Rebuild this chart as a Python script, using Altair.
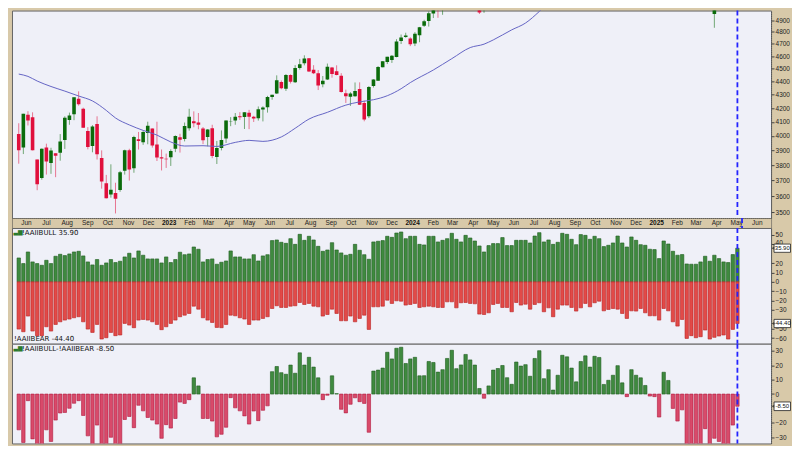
import altair as alt
import pandas as pd

# ---------------- data ----------------
FIRST_WEEK = "2022-05-16"
N_WEEKS = 157

spx_open = [4013, 3919, 4151, 4134, 3838, 3715, 3920, 3815, 3880, 3883, 3971, 4113, 4155, 4270, 4195, 4035, 3930, 4084, 3849, 3682,
            3610, 3619, 3638, 3763, 3901, 3780, 3977, 3956, 4020, 4053, 3940, 3853, 3843, 3853, 3911, 3991, 3978, 4055, 4105, 4096,
            4053, 3993, 4055, 3855, 3917, 3982, 4102, 4110, 4140, 4135, 4166, 4136, 4126, 4190, 4206, 4283, 4308, 4396, 4345, 4450,
            4394, 4505, 4543, 4584, 4492, 4464, 4380, 4415, 4510, 4480, 4445, 4310, 4284, 4289, 4342, 4238, 4140, 4365, 4406, 4512,
            4554, 4569, 4593, 4725, 4758, 4745, 4703, 4772, 4853, 4892, 4957, 5026, 4989, 5093, 5130, 5111, 5154, 5219, 5257, 5218,
            5191, 4988, 5114, 5142, 5221, 5305, 5315, 5297, 5341, 5432, 5459, 5471, 5572, 5625, 5545, 5477, 5151, 5352, 5557, 5637,
            5623, 5442, 5615, 5711, 5727, 5737, 5832, 5857, 5833, 5724, 6008, 5878, 5992, 6040, 6084, 6063, 5940, 5920, 5983, 5788,
            6014, 5970, 5970, 6046, 6121, 6026, 5968, 5705, 5635, 5718, 5527, 4953, 5441, 5232, 5529, 5655, 5805]
spx_high = [4090, 4158, 4177, 4169, 3838, 3913, 3946, 3918, 3880, 4013, 4140, 4167, 4280, 4325, 4203, 4062, 4076, 4140, 3900, 3736,
            3806, 3685, 3762, 3905, 3911, 4001, 4028, 4034, 4101, 4053, 4101, 3906, 3878, 3907, 4004, 4015, 4095, 4195, 4176, 4164,
            4063, 4048, 4079, 3965, 4039, 4110, 4134, 4164, 4170, 4170, 4187, 4143, 4212, 4213, 4291, 4299, 4448, 4408, 4458, 4456,
            4528, 4578, 4607, 4584, 4528, 4490, 4443, 4541, 4514, 4527, 4465, 4338, 4319, 4393, 4394, 4255, 4365, 4418, 4521, 4560,
            4595, 4609, 4739, 4778, 4793, 4755, 4798, 4842, 4903, 4975, 5030, 5048, 5111, 5140, 5189, 5180, 5262, 5265, 5264, 5263,
            5211, 5114, 5128, 5239, 5325, 5342, 5315, 5375, 5447, 5506, 5524, 5570, 5655, 5670, 5585, 5566, 5376, 5563, 5643, 5651,
            5623, 5636, 5733, 5767, 5765, 5822, 5879, 5879, 5870, 6013, 6018, 5972, 6044, 6099, 6085, 6085, 6050, 5955, 6021, 6012,
            6128, 6100, 6101, 6127, 6147, 6043, 5986, 5715, 5715, 5787, 5695, 5481, 5459, 5528, 5700, 5720, 5959]
spx_low = [3810, 3875, 4074, 3900, 3637, 3705, 3738, 3743, 3721, 3830, 3910, 4079, 4112, 4218, 4057, 3907, 3887, 3838, 3647, 3585,
           3590, 3492, 3627, 3738, 3699, 3750, 3906, 3938, 3942, 3919, 3828, 3765, 3782, 3795, 3888, 3885, 3962, 4037, 4061, 4047,
           3943, 3928, 3847, 3808, 3900, 3951, 4069, 4079, 4114, 4049, 4048, 4099, 4109, 4103, 4167, 4262, 4305, 4341, 4328, 4385,
           4389, 4493, 4527, 4474, 4458, 4335, 4356, 4412, 4430, 4448, 4316, 4238, 4216, 4284, 4223, 4104, 4127, 4354, 4406, 4511,
           4537, 4546, 4591, 4699, 4751, 4682, 4682, 4714, 4842, 4845, 4918, 4920, 4946, 5057, 5057, 5092, 5146, 5204, 5146, 5107,
           4953, 4963, 5012, 5114, 5211, 5257, 5191, 5234, 5325, 5420, 5433, 5448, 5497, 5497, 5391, 5306, 5119, 5324, 5540, 5560,
           5402, 5406, 5604, 5698, 5674, 5695, 5808, 5787, 5702, 5696, 5853, 5855, 5963, 6032, 6024, 5832, 5933, 5829, 5809, 5774,
           6006, 5924, 5923, 6003, 6008, 5837, 5666, 5505, 5597, 5581, 5069, 4835, 5220, 5101, 5434, 5598, 5786]
spx_close = [3901, 4158, 4109, 3901, 3675, 3912, 3825, 3899, 3863, 3961, 4130, 4145, 4280, 4228, 4058, 3924, 4067, 3873, 3693, 3586,
             3640, 3583, 3753, 3901, 3771, 3993, 3965, 4027, 4072, 3934, 3852, 3845, 3840, 3895, 3999, 3973, 4071, 4136, 4090, 4079,
             3970, 4046, 3862, 3917, 3971, 4109, 4105, 4137, 4133, 4169, 4136, 4124, 4192, 4205, 4282, 4299, 4410, 4348, 4450, 4399,
             4505, 4536, 4582, 4478, 4464, 4370, 4406, 4516, 4458, 4450, 4320, 4288, 4309, 4327, 4224, 4117, 4358, 4415, 4514, 4559,
             4595, 4604, 4719, 4754, 4770, 4697, 4784, 4840, 4891, 4959, 5027, 5006, 5089, 5137, 5124, 5117, 5234, 5254, 5204, 5123,
             4967, 5100, 5128, 5223, 5303, 5305, 5278, 5347, 5432, 5465, 5460, 5567, 5615, 5505, 5459, 5347, 5344, 5555, 5634, 5648,
             5408, 5626, 5702, 5738, 5751, 5815, 5864, 5808, 5729, 5996, 5871, 5969, 6032, 6090, 6051, 5931, 5971, 5942, 5827, 5997,
             6101, 6041, 6026, 6115, 6013, 5955, 5770, 5639, 5668, 5581, 5074, 5363, 5283, 5525, 5687, 5660, 5958]

aaii_bull = [25.5, 19.5, 31.9, 21.3, 19.5, 17.7, 23.0, 19.5, 27.3, 29.4, 28.0, 29.8, 31.9, 32.6, 27.7, 21.3, 18.1, 23.8, 17.7, 20.2,
             23.8, 20.6, 22.0, 26.6, 30.5, 25.5, 33.0, 28.4, 24.5, 24.5, 24.5, 20.2, 26.6, 20.6, 23.8, 31.6, 29.0, 29.8, 37.2, 34.8,
             21.3, 23.8, 24.5, 18.8, 20.9, 22.3, 33.0, 26.6, 26.6, 24.5, 24.5, 29.0, 22.3, 27.7, 29.0, 44.0, 44.7, 42.2, 41.1, 46.1,
             40.0, 50.7, 44.3, 48.6, 44.7, 37.9, 32.6, 34.0, 41.8, 34.0, 30.9, 28.4, 29.4, 40.0, 33.7, 29.0, 24.1, 42.6, 43.3, 44.0,
             48.6, 47.5, 52.1, 53.2, 46.1, 48.6, 48.6, 40.0, 39.4, 48.6, 48.6, 42.6, 44.3, 46.1, 51.8, 45.4, 42.6, 49.6, 46.8, 43.6,
             38.3, 31.9, 38.7, 40.8, 40.8, 47.2, 38.7, 38.7, 44.3, 44.3, 44.3, 41.5, 48.9, 52.5, 42.6, 44.7, 40.0, 42.2, 51.8, 50.7,
             45.4, 39.7, 50.4, 49.6, 45.4, 48.6, 46.1, 37.6, 39.0, 41.5, 48.9, 41.5, 37.2, 47.9, 44.3, 39.7, 39.0, 34.8, 34.4, 24.8,
             43.6, 40.4, 32.6, 28.4, 29.1, 19.1, 18.8, 18.8, 21.3, 27.3, 22.0, 28.4, 24.8, 21.3, 20.6, 29.1, 35.9]
aaii_bear = [50.4, 53.2, 36.5, 52.5, 57.4, 57.4, 47.9, 52.5, 45.4, 42.6, 40.8, 39.7, 38.3, 37.2, 42.6, 50.4, 53.9, 45.4, 61.0, 59.6,
             53.9, 57.4, 56.7, 44.3, 46.1, 48.9, 40.8, 40.1, 40.8, 42.6, 45.4, 51.0, 47.9, 44.3, 40.8, 37.2, 35.5, 33.7, 25.9, 29.1,
             38.3, 40.8, 43.3, 48.6, 48.9, 45.4, 35.5, 36.2, 38.3, 39.7, 45.4, 40.8, 40.8, 39.0, 37.2, 28.4, 25.5, 27.3, 27.3, 25.9,
             25.5, 22.0, 24.1, 23.0, 25.9, 26.6, 36.5, 34.8, 29.1, 33.7, 41.5, 41.5, 36.5, 42.6, 39.0, 35.5, 50.7, 26.6, 26.6, 25.9,
             19.5, 23.0, 20.2, 20.6, 24.8, 24.1, 23.0, 27.3, 26.6, 25.9, 26.6, 27.3, 27.3, 21.3, 21.3, 27.7, 22.3, 22.0, 23.0, 23.4,
             34.4, 34.8, 33.0, 24.1, 23.0, 27.3, 27.3, 31.9, 22.0, 24.8, 23.8, 29.1, 24.1, 22.3, 31.9, 27.7, 37.2, 29.1, 24.8, 24.8,
             27.3, 31.2, 27.7, 23.0, 26.6, 22.3, 20.6, 30.9, 29.4, 28.4, 29.1, 33.7, 39.0, 30.9, 31.2, 28.4, 33.0, 36.2, 36.2, 40.8,
             28.4, 30.9, 42.6, 47.2, 40.1, 60.3, 57.4, 59.6, 58.5, 51.4, 61.0, 59.2, 57.8, 56.7, 61.0, 50.7, 44.4]

# 40-week moving average (week number, price)
ma_week = [0, 2, 4, 7, 10, 13, 16, 19, 21, 24, 27, 30, 33, 36, 40, 43, 47, 50, 53, 57, 60, 63, 67, 71, 74, 77, 80, 83,
           85, 90, 94, 98, 101, 103, 107, 110, 113, 115, 118, 121]
ma_value = [4458, 4440, 4404, 4362, 4327, 4290, 4253, 4183, 4128, 4078, 4039, 4006, 3958, 3930, 3932, 3927, 3955, 3969, 3962,
            3993, 4054, 4120, 4169, 4222, 4246, 4262, 4292, 4345, 4392, 4490, 4580, 4670, 4698, 4733, 4817, 4875, 4975, 5053,
            5120, 5180]

month_labels = ["Jun", "Jul", "Aug", "Sep", "Oct", "Nov", "Dec", "2023", "Feb", "Mar", "Apr", "May", "Jun", "Jul", "Aug",
                "Sep", "Oct", "Nov", "Dec", "2024", "Feb", "Mar", "Apr", "May", "Jun", "Jul", "Aug", "Sep", "Oct", "Nov",
                "Dec", "2025", "Feb", "Mar", "Apr", "May", "Jun"]
price_ticks = [3500, 3600, 3700, 3800, 3900, 4000, 4100, 4200, 4300, 4400, 4500, 4600, 4700, 4800, 4900]
sent_ticks = [50, 40, 20, 10, 0, -10, -20, -30, -50, -60]      # 30 and -40 sit under the value boxes
spread_ticks = [30, 20, 10, 0, -20, -30]                        # -10 sits under the value box

# ---------------- layout / style ----------------
PLOT_W = 761
AX_W = 20
TOP_H, BAND_H, MID_H, BOT_H = 208, 10, 116, 100
PX_PER_WEEK = 4.68
FIRST_BAR_PX = 1.8

TAN = "#d8c9a9"
PLOT_BG = "#eff0f8"
C_UP = "#0b6b0b"
C_DN = "#e0103c"
MA_COL = "#6464c4"
BULL_FILL, BULL_STROKE = "#3f8a3f", "#1f5c1f"
BEAR_FILL, BEAR_STROKE = "#e24a48", "#b82020"
NEG_FILL, NEG_STROKE = "#d94a6a", "#b0183c"
BLUE = "#2424ff"
FONT = "DejaVu Sans"
AXFONT = "Liberation Sans"

dates = pd.date_range(FIRST_WEEK, periods=N_WEEKS, freq="7D")
t0 = dates[0] - pd.Timedelta(days=FIRST_BAR_PX / PX_PER_WEEK * 7)
t1 = t0 + pd.Timedelta(days=PLOT_W / PX_PER_WEEK * 7)


def ms(t):
    return int(pd.Timestamp(t).value // 10**6)


xscale = alt.Scale(type="utc", domain=[ms(t0), ms(t1)])
X = alt.X("date:T", scale=xscale, axis=None)

df = pd.DataFrame({
    "date": dates.strftime("%Y-%m-%d"),
    "open": spx_open, "high": spx_high, "low": spx_low, "close": spx_close,
    "bull": aaii_bull, "bear": aaii_bear,
})
ma_df = pd.DataFrame({"date": dates[ma_week].strftime("%Y-%m-%d"), "ma": ma_value})
last_df = pd.DataFrame({"date": [dates[-1].strftime("%Y-%m-%d")]})
month_df = pd.DataFrame({
    "date": pd.date_range("2022-06-01", periods=len(month_labels), freq="MS").strftime("%Y-%m-%d"),
    "label": month_labels,
})
month_df["year"] = month_df["label"].str.match(r"^\d{4}$")


def right_axis(values, fmt, baseline="middle"):
    return alt.Axis(orient="right", values=values, format=fmt, title=None, grid=False,
                    tickSize=3, tickColor="#444", labelPadding=1, labelFont=AXFONT,
                    labelFontSize=6.5, labelColor="#222", domainColor="#555", labelBaseline=baseline,
                    domainDash=[1, 1], minExtent=AX_W, maxExtent=AX_W, labelFlush=False)


blue_rule = alt.Chart(last_df).mark_rule(color=BLUE, strokeDash=[5, 3], strokeWidth=1.8).encode(x=X)

# ---------------- top: candlesticks ----------------
top_scale = alt.Scale(type="log", domain=[3464, 4983], nice=False, zero=False)
top_axis = right_axis(price_ticks, "d")
candle_col = alt.condition("datum.close >= datum.open", alt.value(C_UP), alt.value(C_DN))
base = alt.Chart(df).encode(x=X)
wicks = base.mark_rule(strokeWidth=1, opacity=0.55, clip=True).encode(
    y=alt.Y("low:Q", scale=top_scale, axis=top_axis), y2="high:Q", color=candle_col)
bodies = base.mark_bar(size=3.6, clip=True).encode(
    y=alt.Y("open:Q", scale=top_scale, axis=top_axis), y2="close:Q", color=candle_col)
ma_line = alt.Chart(ma_df).mark_line(color=MA_COL, strokeWidth=1, clip=True, interpolate="monotone").encode(
    x=X, y=alt.Y("ma:Q", scale=top_scale, axis=top_axis))
top = alt.layer(wicks, bodies, ma_line, blue_rule).properties(width=PLOT_W, height=TOP_H)

# ---------------- band: month labels ----------------
band_base = alt.Chart(month_df).encode(x=X, y=alt.value(BAND_H / 2), text="label:N")
band_month = band_base.transform_filter("!datum.year").mark_text(
    font=AXFONT, fontSize=6.5, color="#222", baseline="middle", align="center", dx=2)
band_year = band_base.transform_filter("datum.year").mark_text(
    font=AXFONT, fontSize=6.5, fontWeight="bold", color="#111", baseline="middle", align="center", dx=2)
band = alt.layer(band_month, band_year, blue_rule).properties(
    width=PLOT_W, height=BAND_H,
    view=alt.ViewBackground(fill=TAN, stroke="#444", strokeDash=[1, 1], strokeWidth=1))

# ---------------- middle: bull / bear ----------------
mid_scale = alt.Scale(domain=[-65.96, 57.45], nice=False, zero=False)
mid_axis = right_axis(sent_ticks, "d",
                      baseline=alt.condition("datum.value == 40", alt.value("alphabetic"), alt.value("middle")))
mid_base = alt.Chart(df).encode(x=X)
bull_bars = mid_base.mark_bar(size=3.4, fill=BULL_FILL, stroke=BULL_STROKE, strokeWidth=0.6, clip=True).encode(
    y=alt.Y("bull:Q", scale=mid_scale, axis=mid_axis), y2=alt.datum(0))
bear_bars = mid_base.transform_calculate(nbear="-datum.bear").mark_bar(
    size=3.4, fill=BEAR_FILL, stroke=BEAR_STROKE, strokeWidth=0.6, clip=True).encode(
    y=alt.Y("nbear:Q", scale=mid_scale, axis=mid_axis), y2=alt.datum(0))

last_bull = aaii_bull[-1]
last_bear = aaii_bear[-1]
last_spread = round(last_bull - last_bear, 2)


def legend(text, y, icon=True):
    rows = [alt.Chart(pd.DataFrame({"t": [text]})).mark_text(
        align="left", baseline="middle", font=FONT, fontSize=7, color="#111").encode(
        x=alt.value(10 if icon else 2), y=alt.value(y), text="t:N")]
    if icon:
        rows.append(alt.Chart(pd.DataFrame({"t": ["\u2583\u2586"]})).mark_text(
            align="left", baseline="middle", font=FONT, fontSize=6, color="#2a7a2a").encode(
            x=alt.value(1.5), y=alt.value(y - 0.5), text="t:N"))
    return rows


def value_box(v, scale, axis, half):
    d = pd.DataFrame({"v": [v], "t": [f"{v:.2f}"]})
    b = alt.Chart(d).transform_calculate(top=f"datum.v + {half}", bot=f"datum.v - {half}")
    rect = b.mark_rect(fill="white", stroke="#222", strokeWidth=0.8, clip=False).encode(
        x=alt.value(PLOT_W + 3), x2=alt.value(PLOT_W + AX_W - 0.5),
        y=alt.Y("top:Q", scale=scale, axis=axis), y2="bot:Q")
    ptr = b.mark_point(shape="triangle-left", size=10, filled=True, color="#222", clip=False).encode(
        x=alt.value(PLOT_W + 1.8), y=alt.Y("v:Q", scale=scale, axis=axis))
    txt = b.mark_text(align="center", baseline="middle", font=AXFONT, fontSize=6, color="#111", clip=False).encode(
        x=alt.value(PLOT_W + 3 + (AX_W - 3.5) / 2), y=alt.Y("v:Q", scale=scale, axis=axis), text="t:N")
    return [rect, ptr, txt]


mid = alt.layer(
    bull_bars, bear_bars, blue_rule,
    *legend(f"!AAIIBULL {last_bull:.2f}", 5),
    *legend(f"!AAIIBEAR {-last_bear:.2f}", MID_H - 5, icon=False),
    *value_box(last_bull, mid_scale, mid_axis, 4.4),
    *value_box(-last_bear, mid_scale, mid_axis, 4.4),
).properties(width=PLOT_W, height=MID_H)

# ---------------- bottom: bull - bear spread ----------------
bot_scale = alt.Scale(domain=[-34.38, 35.07], nice=False, zero=False)
bot_axis = right_axis(spread_ticks, "d")
spread_bars = alt.Chart(df).transform_calculate(spread="datum.bull - datum.bear").mark_bar(
    size=3.4, strokeWidth=0.6, clip=True).encode(
    x=X, y=alt.Y("spread:Q", scale=bot_scale, axis=bot_axis), y2=alt.datum(0),
    fill=alt.condition("datum.spread >= 0", alt.value(BULL_FILL), alt.value(NEG_FILL)),
    stroke=alt.condition("datum.spread >= 0", alt.value(BULL_STROKE), alt.value(NEG_STROKE)))
bot = alt.layer(
    spread_bars, blue_rule,
    *legend(f"!AAIIBULL-!AAIIBEAR {last_spread:.2f}", 5),
    *value_box(last_spread, bot_scale, bot_axis, 3.0),
).properties(width=PLOT_W, height=BOT_H)

chart = alt.vconcat(top, band, mid, bot, spacing=0, bounds="flush").properties(
    background=TAN, padding={"left": 3, "top": 0, "right": 0, "bottom": 0}
).configure_view(fill=PLOT_BG, stroke="#666", strokeWidth=1)

chart.save("out.html", embed_options={"renderer": "svg", "actions": False})
